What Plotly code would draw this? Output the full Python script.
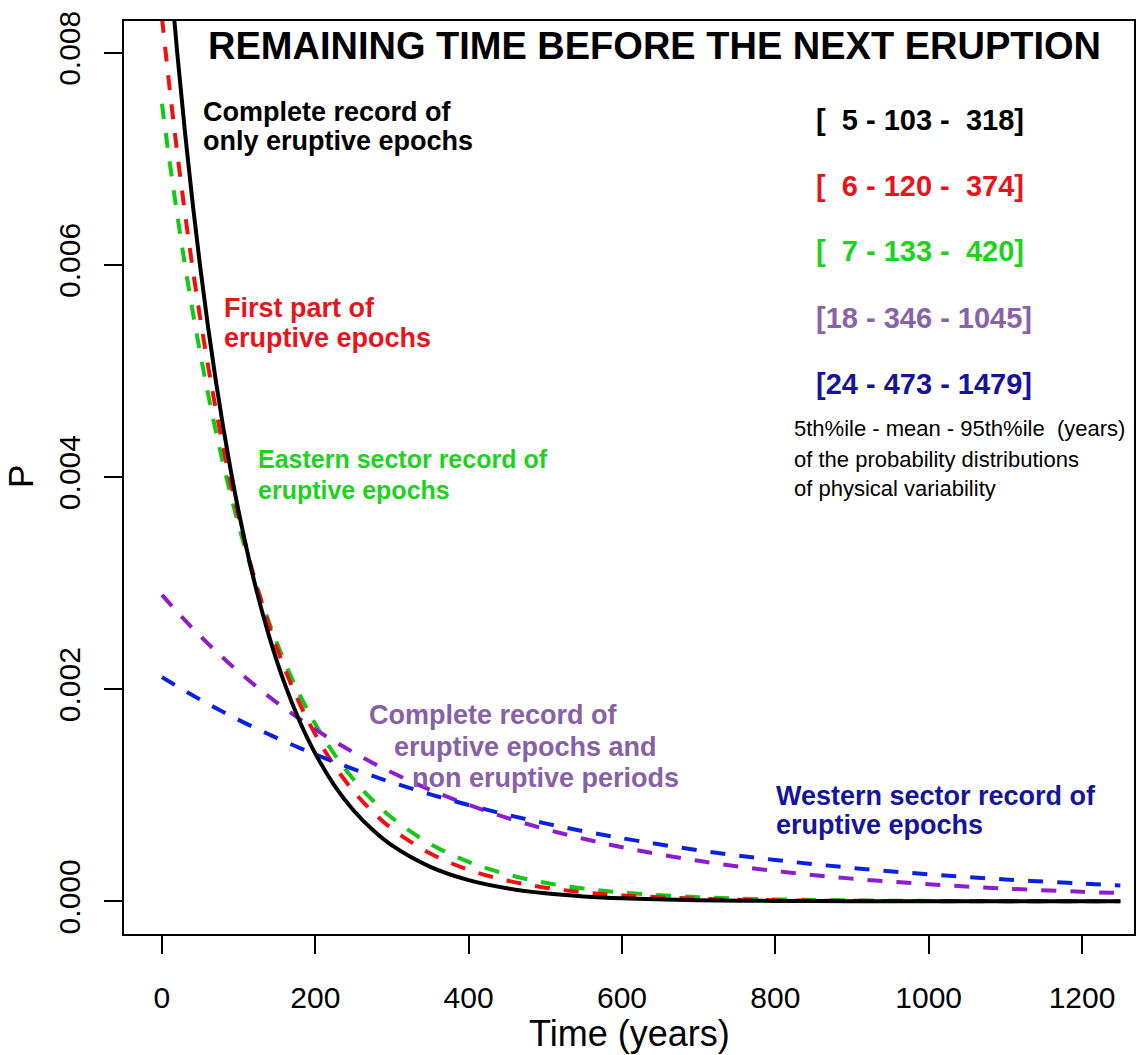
import plotly.graph_objects as go

# ---- data ----
time_years = [0, 10, 20, 30, 40, 50, 60, 70, 80, 90, 100, 120, 140, 160, 180, 200,
              225, 250, 275, 300, 350, 400, 450, 500, 550, 600, 700, 800, 900, 1000,
              1100, 1200, 1250]

p_complete_eruptive = [0.009709, 0.008810, 0.007995, 0.007255, 0.006584, 0.005975, 0.005422,
                       0.004920, 0.004465, 0.004052, 0.003677, 0.003028, 0.002494, 0.002053,
                       0.001691, 0.001393, 0.001092, 0.000857, 0.000672, 0.000527, 0.000325,
                       0.000200, 0.000123, 0.0000756, 0.0000466, 0.0000287, 0.0000108,
                       0.0000041, 0.0000016, 0.0000006, 0.0000002, 0.0000001, 0.0000001]

p_first_part = [0.008333, 0.007667, 0.007054, 0.006490, 0.005971, 0.005494, 0.005054, 0.004650,
                0.004279, 0.003936, 0.003622, 0.003066, 0.002595, 0.002197, 0.001859, 0.001574,
                0.001278, 0.001038, 0.000843, 0.000684, 0.000451, 0.000297, 0.000196, 0.000129,
                0.0000852, 0.0000561, 0.0000244, 0.0000106, 0.0000046, 0.0000020, 0.0000009,
                0.0000004, 0.0000002]

p_eastern = [0.007519, 0.006974, 0.006469, 0.006001, 0.005566, 0.005163, 0.004789, 0.004442,
             0.004120, 0.003822, 0.003545, 0.003050, 0.002624, 0.002258, 0.001943, 0.001671,
             0.001385, 0.001148, 0.000951, 0.000788, 0.000541, 0.000372, 0.000255, 0.000175,
             0.000120, 0.0000826, 0.0000389, 0.0000184, 0.0000087, 0.0000041, 0.0000019,
             0.0000009, 0.0000006]

p_complete_noneruptive = [0.002890, 0.002808, 0.002728, 0.002650, 0.002575, 0.002501, 0.002430,
                          0.002361, 0.002294, 0.002228, 0.002165, 0.002043, 0.001928, 0.001820,
                          0.001718, 0.001621, 0.001508, 0.001403, 0.001305, 0.001214, 0.001051,
                          0.000910, 0.000787, 0.000681, 0.000590, 0.000510, 0.000382, 0.000286,
                          0.000214, 0.000161, 0.000120, 0.0000901, 0.0000780]

p_western = [0.002114, 0.002070, 0.002027, 0.001984, 0.001943, 0.001902, 0.001862, 0.001823,
             0.001785, 0.001748, 0.001711, 0.001640, 0.001573, 0.001507, 0.001445, 0.001385,
             0.001314, 0.001246, 0.001182, 0.001121, 0.001009, 0.000908, 0.000817, 0.000735,
             0.000661, 0.000595, 0.000481, 0.000390, 0.000315, 0.000255, 0.000207, 0.000167,
             0.000150]

x_ticks = [0, 200, 400, 600, 800, 1000, 1200]
y_ticks = [0.000, 0.002, 0.004, 0.006, 0.008]
y_tick_labels = ["0.000", "0.002", "0.004", "0.006", "0.008"]

range_labels = ["[\u00a0\u00a05 - 103 -\u00a0\u00a0318]",
                "[\u00a0\u00a06 - 120 -\u00a0\u00a0374]",
                "[\u00a0\u00a07 - 133 - \u00a0420]",
                "[18 - 346 - 1045]",
                "[24 - 473 - 1479]"]

FONT = "Liberation Sans, Arial, Helvetica, sans-serif"

fig = go.Figure()

dash = "15px,14px"
fig.add_trace(go.Scatter(x=time_years, y=p_eastern, mode="lines", line_shape="spline",
                         line=dict(color="#14c814", width=4, dash=dash)))
fig.add_trace(go.Scatter(x=time_years, y=p_first_part, mode="lines", line_shape="spline",
                         line=dict(color="#f01010", width=4, dash=dash)))
fig.add_trace(go.Scatter(x=time_years, y=p_complete_noneruptive, mode="lines", line_shape="spline",
                         line=dict(color="#8c1ccc", width=4, dash=dash)))
fig.add_trace(go.Scatter(x=time_years, y=p_western, mode="lines", line_shape="spline",
                         line=dict(color="#0a22e0", width=4, dash=dash)))
fig.add_trace(go.Scatter(x=time_years, y=p_complete_eruptive, mode="lines", line_shape="spline",
                         line=dict(color="#000000", width=4)))

# pixel-to-paper helpers (plot box in pixels)
L, R, T, B = 124, 1135, 11, 934


def px(xp):
    return (xp - L) / (R - L)


def py(yp):
    return (B - yp) / (B - T)


annotations = []


def note(text, xp, yp, color, size, bold=True, xanchor="left", angle=0, dy=-9):
    t = f"<b>{text}</b>" if bold else text
    annotations.append(dict(text=t, x=px(xp), y=py(yp + dy), xref="paper", yref="paper",
                            xanchor=xanchor, yanchor="middle", showarrow=False,
                            textangle=angle,
                            font=dict(family=FONT, size=size, color=color)))


note("REMAINING TIME BEFORE THE NEXT ERUPTION", 655, 45, "#000000", 38, xanchor="center")

note("Complete record of", 201, 112, "#000000", 27)
note("only eruptive epochs", 201, 141, "#000000", 27)

note("First part of", 222, 310, "#e8141c", 27)
note("eruptive epochs", 222, 340, "#e8141c", 27)

note("Eastern sector record of", 256, 463, "#1ed21e", 25)
note("eruptive epochs", 256, 494, "#1ed21e", 25)

note("Complete record of", 367, 722, "#8660a8", 27)
note("eruptive epochs and", 392, 754, "#8660a8", 27)
note("non eruptive periods", 410, 785, "#8660a8", 27)

note("Western sector record of", 775, 803, "#14149c", 27)
note("eruptive epochs", 775, 833, "#14149c", 27)

range_colors = ["#000000", "#e8141c", "#1ed21e", "#8a62aa", "#14149c"]
range_y = [120, 187, 253, 320, 387]
for lab, col, yy in zip(range_labels, range_colors, range_y):
    note(lab, 815, yy, col, 29)

note("5th%ile - mean - 95th%ile \u00a0(years)", 793, 432, "#000000", 22, bold=False)
note("of the probability distributions", 793, 463, "#000000", 22, bold=False)
note("of physical variability", 793, 493, "#000000", 22, bold=False)

# axis titles
note("Time (years)", 630, 1035, "#000000", 36, bold=False, xanchor="center", dy=0)
note("P", 20, 472, "#000000", 35, bold=False, xanchor="center", angle=-90, dy=0)

fig.update_layout(
    width=1147, height=1055,
    margin=dict(l=L, r=1147 - R, t=T, b=1055 - B),
    paper_bgcolor="white", plot_bgcolor="white",
    showlegend=False,
    font=dict(family=FONT, color="#000000"),
    annotations=annotations,
)

fig.update_xaxes(range=[-49.5, 1267.8], tickvals=x_ticks, ticks="outside", ticklen=18,
                 tickwidth=2, tickcolor="#000", showline=True, linecolor="#000", linewidth=2,
                 mirror=True, showgrid=False, zeroline=False,
                 tickfont=dict(family=FONT, size=30, color="#000"), ticklabelstandoff=18)
fig.update_yaxes(range=[-0.000308, 0.0083], tickvals=y_ticks, ticktext=y_tick_labels,
                 ticks="outside", ticklen=18, tickwidth=2, tickcolor="#000",
                 showline=True, linecolor="#000", linewidth=2, mirror=True,
                 showgrid=False, zeroline=False, tickangle=-90,
                 tickfont=dict(family=FONT, size=30, color="#000"), ticklabelstandoff=12)

fig.write_html("out.html")
